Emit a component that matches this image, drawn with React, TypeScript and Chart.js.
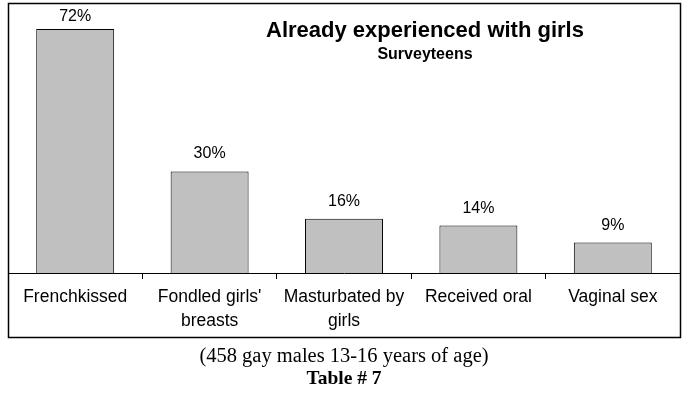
import React, { useEffect, useRef } from "react";
import { Chart, registerables } from "chart.js";

Chart.register(...registerables);

const categories: (string | string[])[] = [
  "Frenchkissed",
  ["Fondled girls'", "breasts"],
  ["Masturbated by", "girls"],
  "Received oral",
  "Vaginal sex",
];
const values: number[] = [72, 30, 16, 14, 9];
const valueLabels: string[] = ["72%", "30%", "16%", "14%", "9%"];
const chartTitle = "Already experienced with girls";
const chartSubtitle = "Surveyteens";
const footerLine1 = "(458 gay males 13-16 years of age)";
const footerLine2 = "Table # 7";

const decorPlugin = {
  id: "decor",
  afterDatasetsDraw(chart: any) {
    const ctx = chart.ctx;
    const meta = chart.getDatasetMeta(0);
    ctx.save();
    ctx.fillStyle = "#000";
    ctx.font = "16px 'Liberation Sans', Arial, sans-serif";
    ctx.textAlign = "center";
    ctx.textBaseline = "alphabetic";
    meta.data.forEach((bar: any, i: number) => {
      ctx.fillText(valueLabels[i], bar.x, Math.max(bar.y - 13, 21));
    });
    // title
    ctx.font = "bold 22px 'Liberation Sans', Arial, sans-serif";
    ctx.textBaseline = "middle";
    ctx.fillText(chartTitle, 425, 31);
    ctx.font = "bold 16px 'Liberation Sans', Arial, sans-serif";
    ctx.fillText(chartSubtitle, 425, 55);
    // outer box
    ctx.strokeStyle = "#000";
    ctx.lineWidth = 1.5;
    ctx.strokeRect(8.5, 3.5, 672, 334);
    // footer
    ctx.font = "20.5px 'Liberation Serif', 'Times New Roman', serif";
    ctx.fillText(footerLine1, 344, 357);
    ctx.font = "bold 19.5px 'Liberation Serif', 'Times New Roman', serif";
    ctx.fillText(footerLine2, 344, 379);
    ctx.restore();
  },
};

export default function App() {
  const ref = useRef<HTMLCanvasElement | null>(null);
  useEffect(() => {
    if (!ref.current) return;
    const chart = new Chart(ref.current, {
      type: "bar",
      data: {
        labels: categories,
        datasets: [
          {
            data: values,
            backgroundColor: "#C0C0C0",
            borderColor: "#000",
            borderWidth: 1,
            barPercentage: 0.58,
            categoryPercentage: 1,
          },
        ],
      },
      options: {
        responsive: false,
        animation: false,
        devicePixelRatio: 1,
        layout: { padding: { left: 8, right: 8, top: 2, bottom: 60 } },
        plugins: {
          legend: { display: false },
          tooltip: { enabled: false },
          title: { display: false },
        },
        scales: {
          x: {
            offset: true,
            grid: {
              display: true,
              offset: true,
              drawOnChartArea: false,
              drawTicks: true,
              tickLength: 6,
              color: "#000",
            },
            border: { display: true, color: "#000", width: 1 },
            ticks: {
              color: "#000",
              padding: 6,
              maxRotation: 0,
              autoSkip: false,
              font: { family: "'Liberation Sans', Arial, sans-serif", size: 17.5, lineHeight: 1.36 },
            },
            afterFit: (scale: any) => {
              scale.height = 64;
            },
          },
          y: {
            display: false,
            min: 0,
            max: 80,
          },
        },
      },
      plugins: [decorPlugin],
    });
    return () => chart.destroy();
  }, []);
  return (
    <div style={{ position: "fixed", left: 0, top: 0, width: 688, height: 397, background: "#fff" }}>
      <canvas ref={ref} width={688} height={397} style={{ width: 688, height: 397 }} />
    </div>
  );
}
